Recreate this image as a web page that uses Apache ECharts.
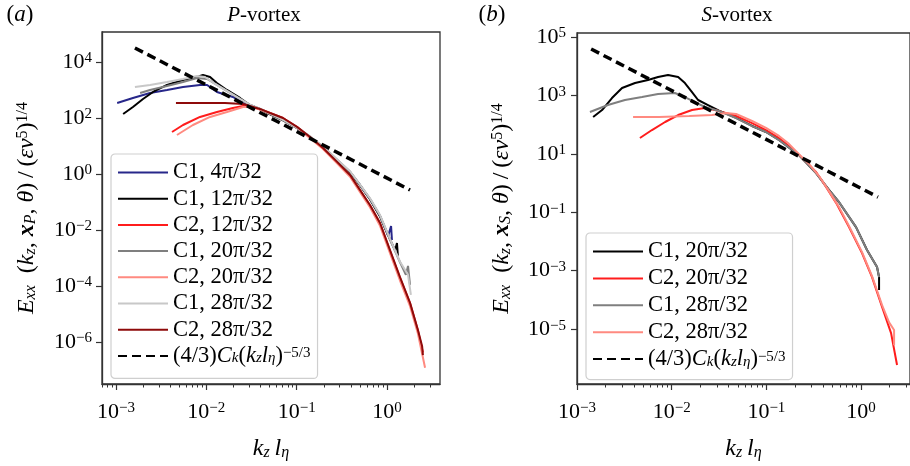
<!DOCTYPE html>
<html>
<head>
<meta charset="utf-8">
<script src="https://cdn.jsdelivr.net/npm/echarts@6/dist/echarts.min.js"></script>
<style>
  html, body { margin: 0; padding: 0; background: #fff; }
  #chart { width: 910px; height: 466px; }
</style>
</head>
<body>
<div id="chart"></div>
<script>
// Streamwise energy spectra E_xx(k_z) against k_z*l_eta, pairs of [k_z l_eta, E_xx].

// ---- P-vortex ----
const pC1_4 = [[0.00103,343],[0.00154,518],[0.00238,782],[0.00367,1000],[0.00552,1280],[0.00851,1509],[0.0102,1509],[0.0131,848],[0.0197,562],[0.0255,343],[0.0304,291],[0.0393,210],[0.0507,139],[0.0706,85],[0.101,44],[0.141,21],[0.196,9.2],[0.280,3.16],[0.390,1.18],[0.502,0.405],[0.648,0.128],[0.838,0.0316],[1.03,0.0061],[1.11,0.0139],[1.135,0.0044]];
const pC1_12 = [[0.0012,139],[0.00154,247],[0.00199,477],[0.00257,848],[0.00367,1509],[0.00552,2276],[0.00789,2911],[0.00918,3436],[0.0110,2911],[0.0131,1778],[0.0169,1000],[0.0236,518],[0.0304,291],[0.0393,205],[0.0507,135],[0.0706,82],[0.101,44],[0.141,21],[0.196,9.0],[0.280,3.1],[0.390,1.15],[0.502,0.40],[0.648,0.125],[0.838,0.030],[1.08,0.0046],[1.23,0.0019],[1.29,0.0034],[1.32,0.0012]];
const pC2_12 = [[0.00417,31.6],[0.00552,56],[0.00851,109],[0.0131,164],[0.0197,228],[0.0255,268],[0.0304,262],[0.0393,205],[0.0507,150],[0.0706,100],[0.101,47],[0.141,20],[0.196,8.3],[0.280,2.6],[0.390,0.88],[0.502,0.26],[0.648,0.075],[0.838,0.017],[1.08,0.0018],[1.39,2.0e-4],[1.80,2.4e-5],[2.20,2.6e-6],[2.50,4.2e-7]];
const pC1_20 = [[0.00185,782],[0.00238,1000],[0.00367,1389],[0.00552,1931],[0.00789,2683],[0.0102,2473],[0.0131,1509],[0.0183,782],[0.0255,405],[0.0304,291],[0.0393,212],[0.0507,140],[0.0706,84],[0.101,43],[0.141,21],[0.196,9.3],[0.280,3.2],[0.390,1.2],[0.502,0.41],[0.648,0.13],[0.838,0.032],[1.08,0.0045],[1.39,7.2e-4],[1.62,2.5e-4],[1.71,5.2e-4],[1.80,1.1e-4]];
const pC2_20 = [[0.00473,24.7],[0.00711,56],[0.0110,109],[0.0169,164],[0.0255,247],[0.0304,255],[0.0393,200],[0.0507,145],[0.0706,95],[0.101,45],[0.141,19],[0.196,7.8],[0.280,2.4],[0.390,0.80],[0.502,0.23],[0.648,0.065],[0.838,0.014],[1.08,0.0015],[1.39,1.6e-4],[1.80,1.9e-5],[2.20,2.0e-6],[2.64,1.2e-7]];
const pC1_28 = [[0.00162,1280],[0.00238,1509],[0.00367,1931],[0.00552,2473],[0.00789,3162],[0.00967,2911],[0.0125,1638],[0.0169,921],[0.0236,477],[0.0304,300],[0.0393,215],[0.0507,142],[0.0706,86],[0.101,45],[0.141,22],[0.196,9.5],[0.280,3.3],[0.390,1.25],[0.502,0.42],[0.648,0.135],[0.838,0.034],[1.08,0.0048],[1.39,7.5e-4],[1.71,2.5e-4],[1.84,4.8e-5]];
const pC2_28 = [[0.00461,343],[0.00851,343],[0.0161,343],[0.0255,316],[0.0304,268],[0.0393,210],[0.0507,151],[0.0706,100],[0.101,48],[0.141,21],[0.196,8.5],[0.280,2.7],[0.390,0.92],[0.502,0.27],[0.648,0.078],[0.838,0.0178],[1.08,0.0019],[1.39,2.1e-4],[1.80,2.5e-5],[2.20,2.7e-6],[2.45,7e-7],[2.5,3.4e-7]];
const pLaw = [[0.00162,31623],[1.80,0.268]];

// ---- S-vortex ----
const sC1_20 = [[0.00148,182],[0.00184,316],[0.00234,815],[0.00299,1791],[0.0041,2660],[0.00562,3365],[0.00718,4266],[0.00915,5000],[0.0117,4266],[0.0138,2660],[0.0164,1307],[0.019,696],[0.0242,469],[0.0316,300],[0.0479,170],[0.0706,90],[0.0991,56],[0.136,30],[0.221,9.0],[0.335,2.2],[0.459,0.58],[0.586,0.22],[0.885,0.031],[1.156,0.0051],[1.475,0.00133],[1.55,6.0e-4],[1.55,2.2e-4]];
const sC2_20 = [[0.00462,34.8],[0.00619,65.3],[0.00852,123],[0.0117,213],[0.0164,316],[0.0225,370],[0.0287,316],[0.0479,197],[0.0706,113],[0.0991,65],[0.136,34.8],[0.173,18.5],[0.221,9.1],[0.262,5.2],[0.335,2.4],[0.427,0.73],[0.545,0.21],[0.746,0.031],[1.024,0.004],[1.306,6.0e-4],[1.667,5.7e-5],[2.075,7.3e-6],[2.40,5.9e-7]];
const sC1_28 = [[0.00137,270],[0.00212,469],[0.00321,696],[0.00486,881],[0.00718,1117],[0.0108,1208],[0.0138,881],[0.0176,594],[0.0225,401],[0.0316,292],[0.0479,168],[0.0706,89],[0.0991,56],[0.136,29.7],[0.221,9.1],[0.335,2.2],[0.459,0.575],[0.586,0.223],[0.885,0.0311],[1.156,0.00507],[1.475,0.00133],[1.55,6.0e-4]];
const sC2_28 = [[0.00391,182],[0.00735,182],[0.0153,197],[0.0267,213],[0.0375,250],[0.0479,231],[0.0706,133],[0.0991,77],[0.136,41],[0.173,22],[0.221,9.8],[0.282,4.5],[0.360,1.74],[0.459,0.53],[0.586,0.15],[0.746,0.034],[1.024,0.0043],[1.306,6.5e-4],[1.667,6.6e-5],[1.977,1.7e-5],[2.233,9.3e-6],[2.233,2.8e-6]];
const sLaw = [[0.00141,38800],[1.51,0.33]];

// decade exponents that carry labels
const xDecades = [-3, -2, -1, 0];
const yDecadesP = [-6, -4, -2, 0, 2, 4];
const yDecadesS = [-5, -3, -1, 1, 3, 5];

const SERIF = 'Liberation Serif';
const lg = d => d.map(p => [Math.log10(p[0]), Math.log10(p[1])]);

// minor tick exponents (2..9 x 10^n) inside a range
function minorTicks(lo, hi) {
  const out = [];
  for (let n = -5; n <= 1; n++) for (let k = 2; k <= 9; k++) {
    const v = n + Math.log10(k);
    if (v >= lo && v <= hi) out.push(v);
  }
  return out;
}

const powRich = {
  b: { fontFamily: SERIF, fontSize: 22, color: '#000' },
  s: { fontFamily: SERIF, fontSize: 15, color: '#000', verticalAlign: 'top', lineHeight: 9 }
};
const powLabel = v => '{b|10}{s|' + (v < 0 ? '\u2212' + (-v) : v) + '}';

const mathRich = {
  r: { fontFamily: SERIF, fontSize: 24, color: '#000' },
  i: { fontFamily: SERIF, fontSize: 24, fontStyle: 'italic', color: '#000' },
  bx: { fontFamily: SERIF, fontSize: 24, fontStyle: 'italic', fontWeight: 'bold', color: '#000' },
  sb: { fontFamily: SERIF, fontSize: 16, fontStyle: 'italic', color: '#000', verticalAlign: 'bottom', lineHeight: 9 },
  sp: { fontFamily: SERIF, fontSize: 16, color: '#000', verticalAlign: 'top', lineHeight: 9 }
};
const yName = v => '{i|E}{sb|xx}{r|\u2002(}{i|k}{sb|z}{r|, }{bx|x}{sb|' + v + '}{r|, }{i|θ}{r|)\u2009/\u2009(}{i|εν}{sp|5}{r|)}{sp|1/4}';
const xName = '{i|k}{sb|z}{i|\u2009l}{sb|η}';

const legendRich = {
  r: { fontFamily: SERIF, fontSize: 22.5, color: '#000', lineHeight: 20 },
  i: { fontFamily: SERIF, fontSize: 22.5, fontStyle: 'italic', color: '#000', lineHeight: 20 },
  sb: { fontFamily: SERIF, fontSize: 15, fontStyle: 'italic', color: '#000', verticalAlign: 'bottom', lineHeight: 8 },
  sp: { fontFamily: SERIF, fontSize: 15, color: '#000', verticalAlign: 'top', lineHeight: 8 }
};
const lawText = '{r|(4/3)}{i|C}{sb|k}{r|(}{i|k}{sb|z}{i|l}{sb|η}{r|)}{sp|\u22125/3}';
const legendFormatter = name => {
  const t = name.split('|')[1];
  return t === 'law' ? lawText : '{r|' + t + '}';
};

function majorX(grid, lo, hi) {
  return {
    type: 'value', gridIndex: grid, min: lo, max: hi, position: 'bottom',
    axisLine: { show: true, onZero: false, lineStyle: { color: '#333', width: 1.3 } },
    axisTick: { show: true, customValues: xDecades, length: 6, lineStyle: { color: '#333', width: 1.2 } },
    axisLabel: { customValues: xDecades, formatter: powLabel, rich: powRich, margin: 17 },
    splitLine: { show: false },
    name: xName, nameLocation: 'middle', nameGap: 53,
    nameTextStyle: { rich: mathRich }
  };
}
function minorX(grid, lo, hi) {
  return {
    type: 'value', gridIndex: grid, min: lo, max: hi, position: 'bottom',
    axisLine: { show: false, onZero: false },
    axisTick: { show: true, customValues: minorTicks(lo, hi), length: 3.5, lineStyle: { color: '#333', width: 1 } },
    axisLabel: { show: false },
    splitLine: { show: false }
  };
}
function yAx(grid, lo, hi, decades, v, margin) {
  return {
    type: 'value', gridIndex: grid, min: lo, max: hi,
    axisLine: { show: true, onZero: false, lineStyle: { color: '#333', width: 1.3 } },
    axisTick: { show: true, customValues: decades, length: 6, lineStyle: { color: '#333', width: 1.2 } },
    axisLabel: { customValues: decades, formatter: powLabel, rich: powRich, margin: margin },
    splitLine: { show: false },
    name: yName(v), nameLocation: 'middle', nameGap: 63, nameRotate: 90,
    nameTextStyle: { rich: mathRich }
  };
}

function line(name, data, color, xi, yi, extra) {
  return Object.assign({
    type: 'line', name: name, data: lg(data), xAxisIndex: xi, yAxisIndex: yi,
    symbol: 'none', showSymbol: false, smooth: false, silent: true,
    lineStyle: { color: color, width: 2 }, itemStyle: { color: color }
  }, extra || {});
}
const dashStyle = { lineStyle: { color: '#000', width: 3.5, type: [9, 5] }, itemStyle: { color: '#000' } };

const pSeries = [
  line('P|C1, 4π/32', pC1_4, '#27278a', 0, 0),
  line('P|C1, 12π/32', pC1_12, '#000000', 0, 0),
  line('P|C2, 12π/32', pC2_12, '#ff1c1c', 0, 0),
  line('P|C1, 20π/32', pC1_20, '#7f7f7f', 0, 0),
  line('P|C2, 20π/32', pC2_20, '#ff8a80', 0, 0),
  line('P|C1, 28π/32', pC1_28, '#c8c8c8', 0, 0),
  line('P|C2, 28π/32', pC2_28, '#8e0a0a', 0, 0),
  line('P|law', pLaw, '#000', 0, 0, dashStyle)
];
const sSeries = [
  line('S|C1, 20π/32', sC1_20, '#000000', 2, 1),
  line('S|C2, 20π/32', sC2_20, '#ff1c1c', 2, 1),
  line('S|C1, 28π/32', sC1_28, '#7f7f7f', 2, 1),
  line('S|C2, 28π/32', sC2_28, '#ff8a80', 2, 1),
  line('S|law', sLaw, '#000', 2, 1, dashStyle)
];

function legendFor(series, left, top, gap, padding) {
  return {
    orient: 'vertical', left: left, top: top,
    data: series.map(s => s.name),
    formatter: legendFormatter,
    textStyle: { fontFamily: SERIF, fontSize: 22.5, color: '#000', rich: legendRich },
    itemWidth: 50, itemHeight: 12, itemGap: gap,
    itemStyle: { opacity: 0 },
    padding: padding,
    backgroundColor: 'rgba(255,255,255,0.85)',
    borderColor: '#cfcfcf', borderWidth: 1.2, borderRadius: 4,
    selectedMode: false
  };
}

const titleRich = {
  r: { fontFamily: SERIF, fontSize: 21, color: '#000' },
  i: { fontFamily: SERIF, fontSize: 21, fontStyle: 'italic', color: '#000' },
  r2: { fontFamily: SERIF, fontSize: 23, color: '#000' },
  i2: { fontFamily: SERIF, fontSize: 23, fontStyle: 'italic', color: '#000' }
};
function label(x, y, text) {
  return { type: 'text', x: x, y: y, style: { text: text, rich: titleRich, align: 'center', verticalAlign: 'middle' } };
}

const chart = echarts.init(document.getElementById('chart'), null, { renderer: 'canvas' });
chart.setOption({
  animation: false,
  backgroundColor: '#fff',
  grid: [
    { left: 102, top: 32, width: 338, height: 352, show: true, borderColor: '#333', borderWidth: 1.3, backgroundColor: 'transparent' },
    { left: 577, top: 33, width: 333, height: 351, show: true, borderColor: '#333', borderWidth: 1.3, backgroundColor: 'transparent' }
  ],
  xAxis: [
    majorX(0, -3.155, 0.587), minorX(0, -3.155, 0.587),
    majorX(1, -3.0, 0.517), minorX(1, -3.0, 0.517)
  ],
  yAxis: [
    yAx(0, -7.5, 5.07, yDecadesP, 'P', 10),
    yAx(1, -6.88, 5.137, yDecadesS, 'S', 11)
  ],
  legend: [
    legendFor(pSeries, 111, 154, 3.2, [7, 7, 11, 6]),
    legendFor(sSeries, 586, 233, 3.9, [7, 7, 9, 6])
  ],
  graphic: [
    label(20, 15, '{r2|(}{i2|a}{r2|)}'),
    label(264, 15, '{i|P}{r|-vortex}'),
    label(492, 15, '{r2|(}{i2|b}{r2|)}'),
    label(737, 15, '{i|S}{r|-vortex}')
  ],
  series: pSeries.concat(sSeries)
});
</script>
</body>
</html>
